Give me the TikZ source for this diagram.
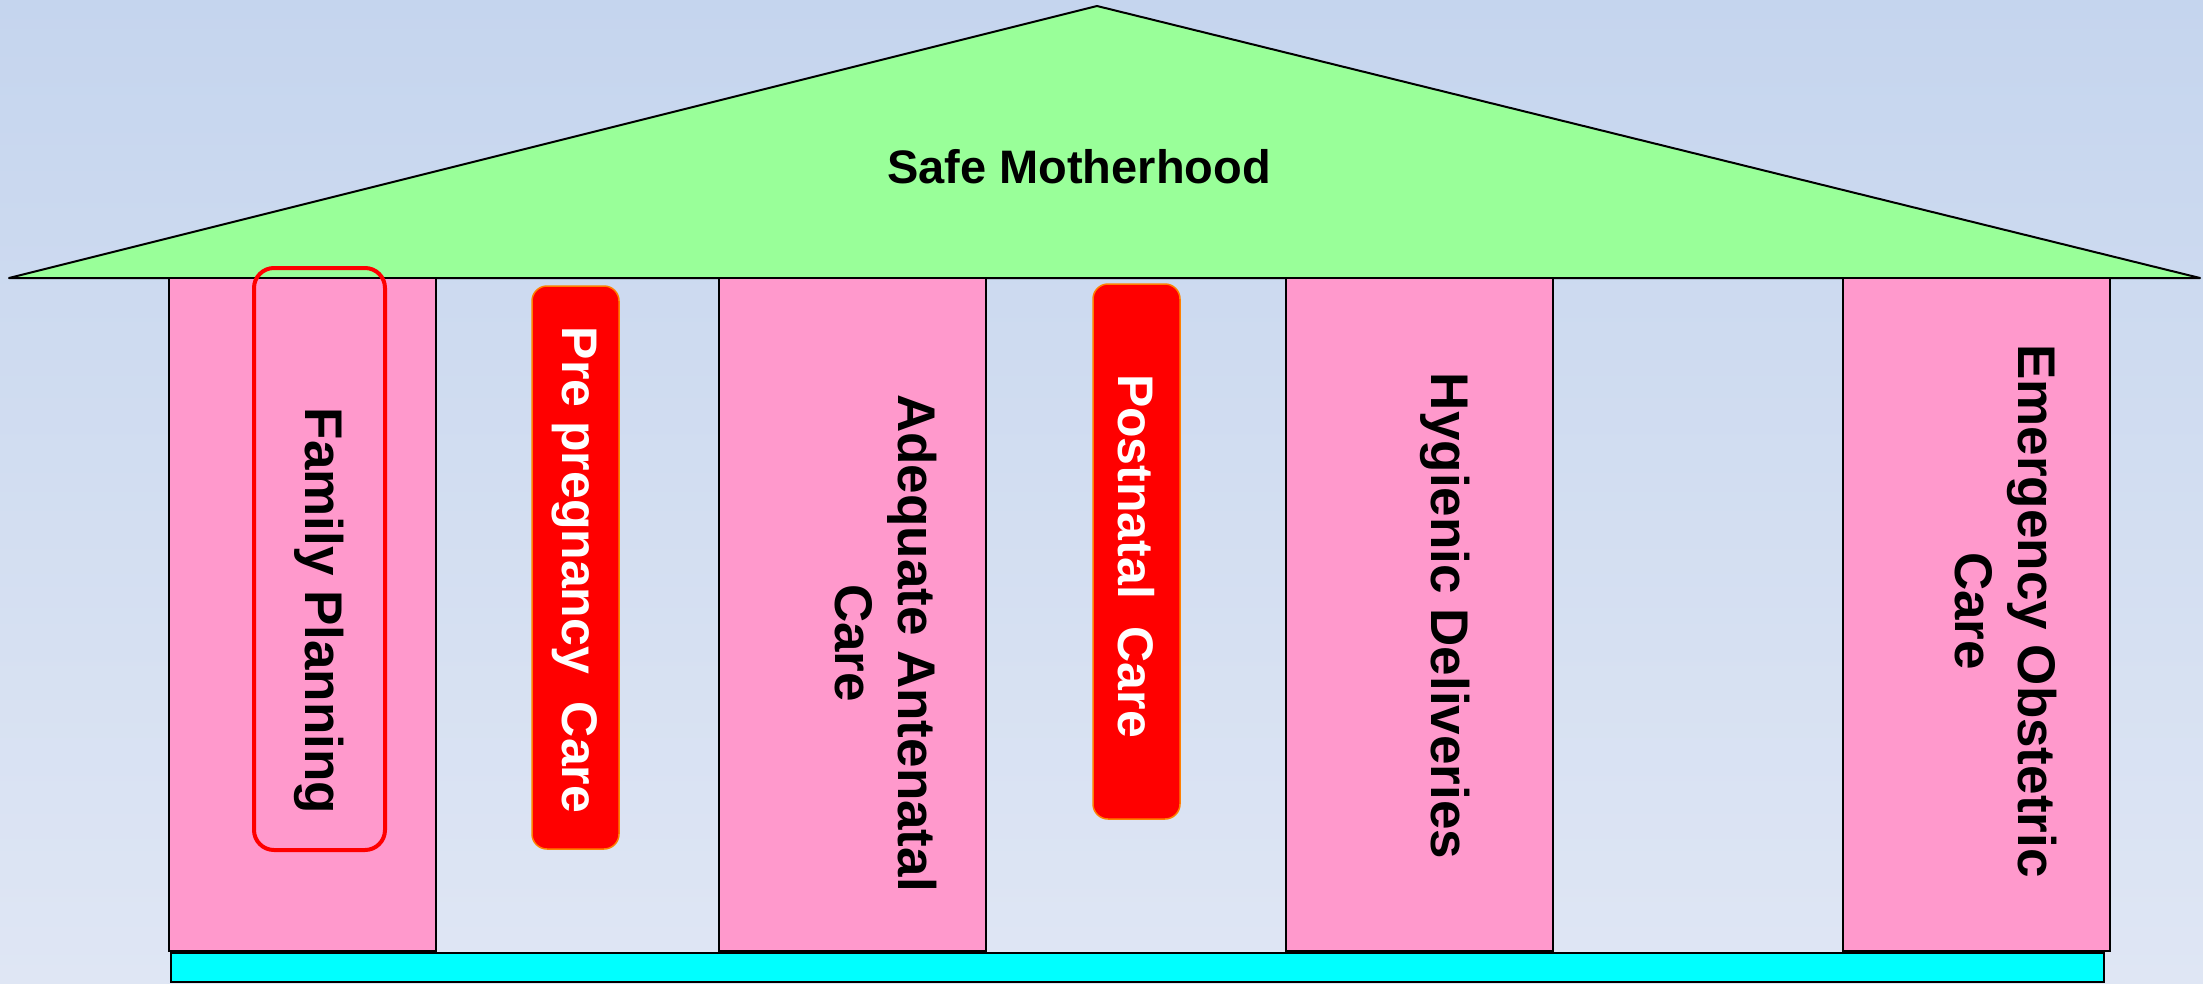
\documentclass[tikz,border=0pt]{standalone}
\usepackage{fontspec}
\setmainfont{Liberation Sans}
\definecolor{bgtop}{RGB}{197,213,238}
\definecolor{bgbot}{RGB}{223,230,244}
\definecolor{roofc}{RGB}{153,255,153}
\definecolor{pinkc}{RGB}{255,153,204}
\definecolor{basec}{RGB}{0,255,255}
\definecolor{redc}{RGB}{255,0,0}
\definecolor{orangec}{RGB}{255,128,0}
\begin{document}
\begin{tikzpicture}[x=1pt,y=-1pt,
  pillar/.style={draw=black, line width=1.5pt, fill=pinkc, minimum width=267pt, minimum height=673pt, inner sep=0pt, outer sep=0pt, anchor=north west},
  basebar/.style={draw=black, line width=1.5pt, fill=basec, minimum width=1933pt, minimum height=29pt, inner sep=0pt, outer sep=0pt, anchor=north west},
  redbar/.style={draw=orangec, line width=1.5pt, fill=redc, rounded corners=15pt},
  outlinebox/.style={draw=redc, line width=4pt, rounded corners=20pt},
  ptext/.style={font=\bfseries\fontsize{53}{63}\selectfont, rotate=-90, align=center, inner sep=0pt},
  wtext/.style={font=\bfseries\fontsize{50}{60}\selectfont, rotate=-90, align=center, inner sep=0pt, text=white},
  ttext/.style={font=\bfseries\fontsize{47}{56}\selectfont, inner sep=0pt}]
\useasboundingbox (0,0) rectangle (2203,983);
\shade[top color=bgtop,bottom color=bgbot] (0,0) rectangle (2203,983);
% roof
\draw[fill=roofc, line width=2pt, line join=round] (9,278) -- (1097,6) -- (2200,278) -- cycle;
% pillars
\node[pillar] (p1) at (169,278) {};
\node[pillar] (p2) at (719,278) {};
\node[pillar] (p3) at (1286,278) {};
\node[pillar] (p4) at (1843,278) {};
% base
\node[basebar] (base) at (171,953) {};
% highlight boxes
\draw[outlinebox] (254,268) rectangle (385,850);
\draw[redbar] (532,286) rectangle (619,849);
\draw[redbar] (1093,284) rectangle (1180,819);
% texts
\node[ttext] (title) at (1079,167) {Safe Motherhood};
\node[ptext] (fp) at (319,611) {Family Planning};
\node[wtext] (pp) at (575,570) {Pre pregnancy~ Care};
\node[ptext] (anc) at (886,643) {Adequate Antenatal\\Care};
\node[wtext] (pn) at (1136,556) {Postnatal~ Care};
\node[ptext] (hd) at (1445,616) {Hygienic Deliveries};
\node[ptext] (eoc) at (2006,611) {Emergency Obstetric\\Care};
\end{tikzpicture}
\end{document}
